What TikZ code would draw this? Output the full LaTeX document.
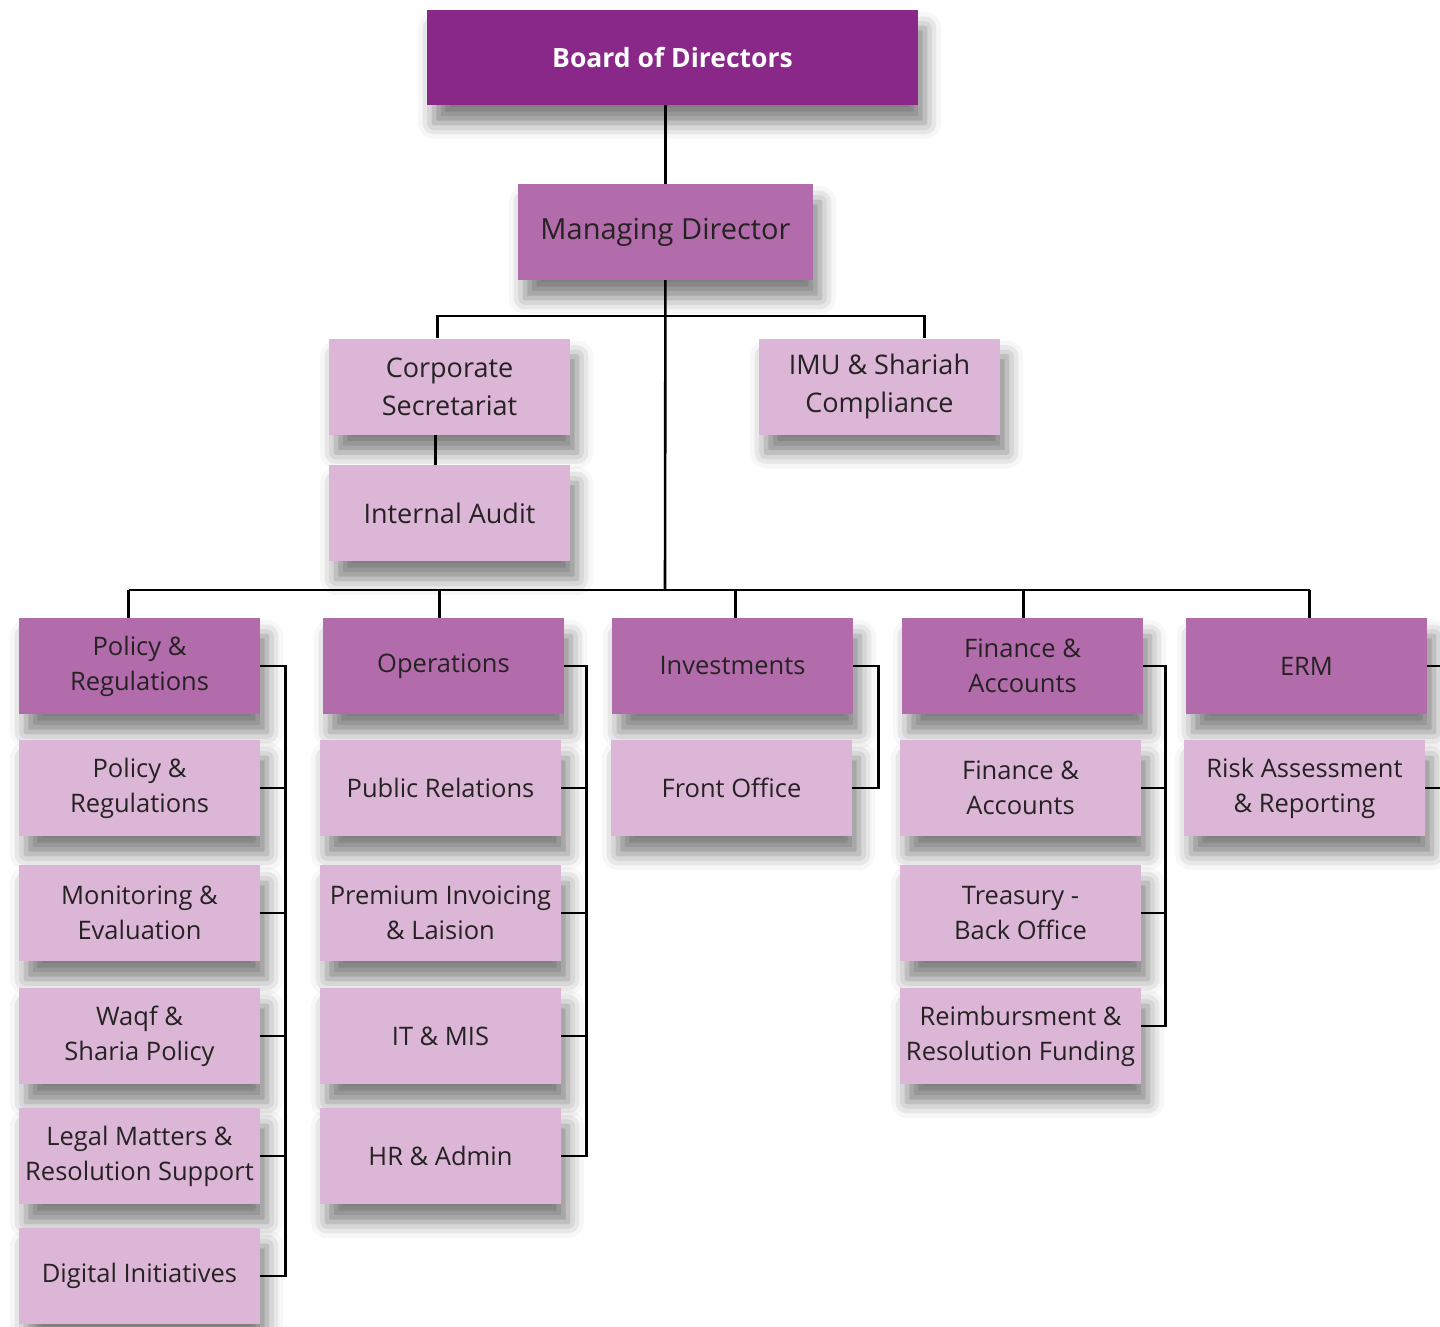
\documentclass[tikz,border=0pt]{standalone}
\usepackage{fontspec}
\setmainfont{Open Sans}
\usetikzlibrary{shadows.blur}

\definecolor{boardc}{RGB}{138,40,138}
\definecolor{headc}{RGB}{179,108,171}
\definecolor{unitc}{RGB}{220,182,214}
\definecolor{inkc}{RGB}{38,34,35}

\tikzset{
  box/.style={rectangle, minimum width=241pt, minimum height=96pt, inner sep=0pt,
    align=center, text=inkc,
    font=\fontsize{25.5}{35}\selectfont,
    blur shadow={shadow xshift=7pt, shadow yshift=-18pt, shadow blur radius=16pt, shadow opacity=50}},
  head/.style={box, fill=headc},
  unit/.style={box, fill=unitc},
  conn/.style={draw=black, line width=2.6pt},
}

\begin{document}
\begin{tikzpicture}[x=1pt, y=-1pt]
        \useasboundingbox (0,0) rectangle (1440,1327);

        \node[box, fill=boardc, text=white, minimum width=491pt, minimum height=95pt,
              font=\bfseries\fontsize{26.5}{35}\selectfont] (BD) at (672.5,57.5) {Board of Directors};
        \node[head, minimum width=295pt, font=\fontsize{29}{35}\selectfont] (MD) at (665.5,232) {Managing Director};

        \node[unit, font=\fontsize{27}{38}\selectfont] (CS) at (449.5,386.5) {Corporate\\Secretariat};
        \node[unit, font=\fontsize{27}{38}\selectfont] (IA) at (449.5,513) {Internal Audit};
        \node[unit, font=\fontsize{27}{38}\selectfont] (IMU) at (879.5,386.5) {IMU \& Shariah\\Compliance};

        % department heads
        \node[head] (P) at (139.5,666) {Policy \&\\Regulations};
        \node[head] (O) at (443.5,666) {Operations};
        \node[head] (I) at (732.5,666) {Investments};
        \node[head] (F) at (1022.5,666) {Finance \&\\Accounts};
        \node[head] (E) at (1306.5,666) {ERM};

        % policy units
        \node[unit] (P1) at (139.5,788) {Policy \&\\Regulations};
        \node[unit] (P2) at (139.5,913) {Monitoring \&\\Evaluation};
        \node[unit] (P3) at (139.5,1036) {Waqf \&\\Sharia Policy};
        \node[unit] (P4) at (139.5,1156) {Legal Matters \&\\Resolution Support};
        \node[unit] (P5) at (139.5,1276) {Digital Initiatives};

        % operations units
        \node[unit] (O1) at (440.5,788) {Public Relations};
        \node[unit] (O2) at (440.5,913) {Premium Invoicing\\\& Laision};
        \node[unit] (O3) at (440.5,1036) {IT \& MIS};
        \node[unit] (O4) at (440.5,1156) {HR \& Admin};

        \node[unit] (I1) at (731.5,788) {Front Office};

        % finance units
        \node[unit] (F1) at (1020.5,788) {Finance \&\\Accounts};
        \node[unit] (F2) at (1020.5,913) {Treasury -\\Back Office};
        \node[unit] (F3) at (1020.5,1036) {Reimbursment \&\\Resolution Funding};

        \node[unit] (E1) at (1304.5,788) {Risk Assessment\\\& Reporting};

        % connectors
        \coordinate (J) at (665,590);
        \coordinate (T) at (665,316);
        \coordinate (EX) at (1440,664);

        \draw[conn] (MD.north |- BD.south) -- (MD.north);
        \draw[conn] (MD) -- (J);
        \draw[conn] ([xshift=-12pt]CS.north) |- (T) -| ([xshift=45pt]IMU.north);
        \draw[conn] ([xshift=-14pt]CS.south) -- ([xshift=-14pt]IA.north);

        \draw[conn] ([xshift=-11pt]P.north |- J) -- ([xshift=3pt]E.north |- J);
        \foreach \n/\dx in {P/-11,O/-4,I/3,F/1,E/3}
            \draw[conn] ([xshift=\dx pt]\n.north) -- ([xshift=\dx pt]\n.north |- J);

        \coordinate (PB) at ([xshift=25pt]P.east);
        \coordinate (OB) at ([xshift=22pt]O.east);
        \coordinate (IB) at ([xshift=25pt]I.east);
        \coordinate (FB) at ([xshift=22pt]F.east);

        \draw[conn] (P.east) -- (PB) -- (PB |- P5.east) -- (P5.east);
        \foreach \k in {1,...,4}
            \draw[conn] (P\k.east) -- (P\k.east -| PB);
        \draw[conn] (O.east) -- (OB) -- (OB |- O4.east) -- (O4.east);
        \foreach \k in {1,...,3}
            \draw[conn] (O\k.east) -- (O\k.east -| OB);
        \draw[conn] (I.east) -- (IB) -- (IB |- I1.east) -- (I1.east);
        \draw[conn] (F.east) -- (FB) -- ([yshift=10pt]FB |- F3.east) -- ([yshift=10pt]F3.east);
        \foreach \k in {1,2}
            \draw[conn] (F\k.east) -- (F\k.east -| FB);

        \draw[conn] (E.east) -- (E.east -| EX);
        \draw[conn] (E1.east) -- (E1.east -| EX);
    \end{tikzpicture}
\end{document}
